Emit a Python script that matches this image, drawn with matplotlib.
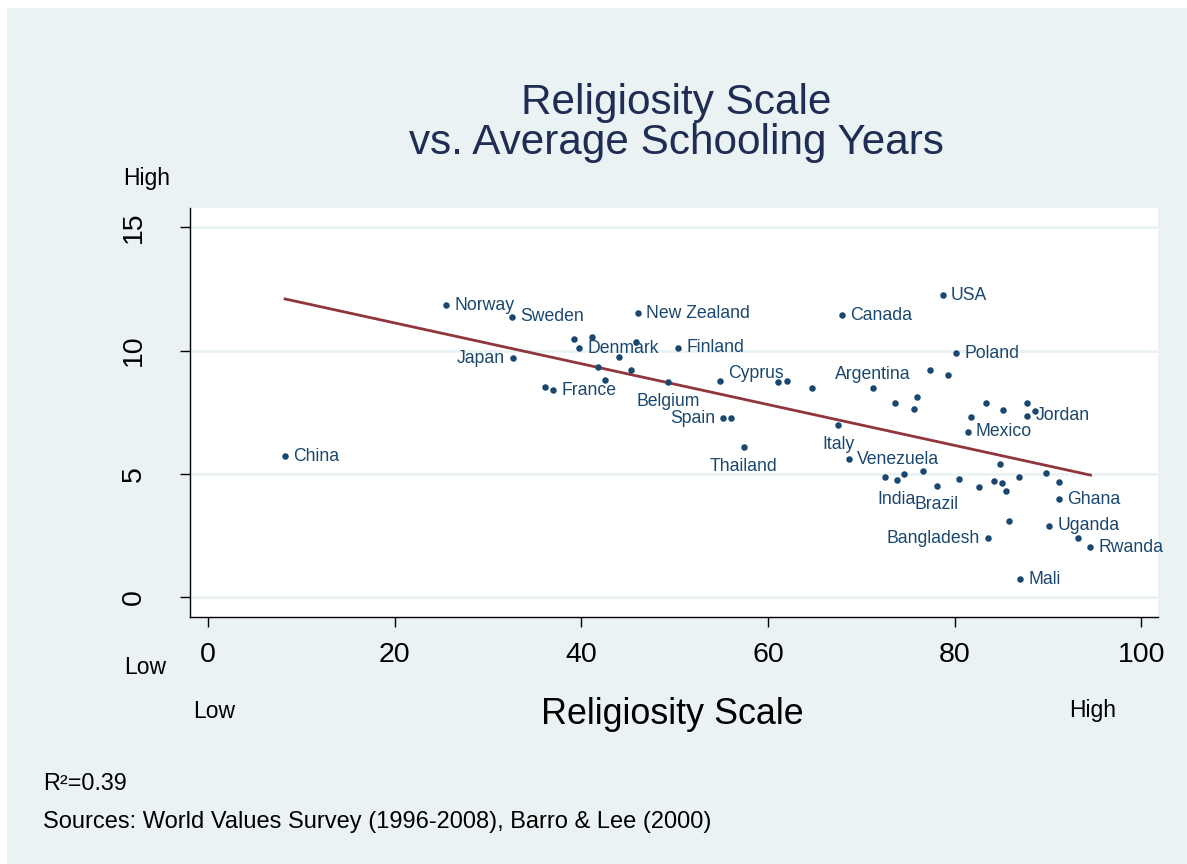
import matplotlib
matplotlib.use("Agg")
import matplotlib.pyplot as plt
import numpy as np

plt.rcParams['font.family'] = ['Liberation Sans', 'DejaVu Sans']

# Religiosity scale (x) and average schooling years (y), one entry per country
countries = [
    "China", "Norway", "Sweden", "Japan", "", "", "Denmark", "", "", "New Zealand",
    "Finland", "", "", "", "", "France", "Belgium", "Cyprus", "", "",
    "", "Spain", "", "Thailand", "USA", "Canada", "Poland", "", "", "Argentina",
    "", "", "", "", "", "", "", "", "Jordan", "Mexico",
    "Italy", "Venezuela", "", "", "", "India", "", "", "Brazil", "",
    "", "", "", "", "", "", "Ghana", "", "Uganda", "",
    "Rwanda", "Bangladesh", "Mali",
]
religiosity = [
    8.26, 25.54, 32.59, 32.65, 39.27, 41.17, 39.77, 44.02, 45.85, 46.06,
    50.40, 41.81, 42.52, 45.35, 36.16, 36.98, 49.32, 54.83, 61.08, 62.05,
    64.73, 55.23, 56.08, 57.43, 78.72, 67.99, 80.18, 77.36, 79.32, 71.24,
    73.61, 75.93, 75.61, 83.34, 85.23, 81.79, 87.80, 88.59, 87.80, 81.40,
    67.52, 68.67, 84.90, 89.77, 72.53, 73.82, 74.57, 76.58, 78.11, 80.44,
    82.58, 84.23, 85.09, 85.52, 86.94, 91.20, 91.20, 85.87, 90.16, 93.21,
    94.56, 83.58, 87.02,
]
schooling = [
    5.72, 11.85, 11.38, 9.69, 10.46, 10.56, 10.09, 9.73, 10.36, 11.51,
    10.12, 9.32, 8.81, 9.21, 8.54, 8.39, 8.71, 8.75, 8.71, 8.78,
    8.49, 7.25, 7.25, 6.08, 12.24, 11.43, 9.89, 9.21, 9.00, 8.49,
    7.89, 8.10, 7.62, 7.86, 7.59, 7.32, 7.86, 7.55, 7.35, 6.70,
    6.98, 5.59, 5.40, 5.03, 4.88, 4.74, 5.00, 5.13, 4.52, 4.78,
    4.45, 4.70, 4.61, 4.30, 4.86, 4.67, 3.97, 3.07, 2.89, 2.41,
    2.02, 2.39, 0.72,
]
# where the label sits relative to the dot
label_pos = {
    "Japan": "left", "Spain": "left", "Bangladesh": "left",
    "Belgium": "below", "Thailand": "below", "Italy": "below",
    "India": "below", "Brazil": "below",
    "Argentina": "above", "Cyprus": "upright",
}

x = np.array(religiosity)
y = np.array(schooling)

navy = "#1A476F"
maroon = "#90353B"
bg = "#EAF2F3"

fig = plt.figure(figsize=(11.87, 8.64), dpi=100)
fig.patch.set_facecolor("white")
fig.add_artist(plt.Rectangle((7 / 1187, 0), 1, 1 - 8 / 864, transform=fig.transFigure,
                             facecolor=bg, edgecolor="none", zorder=-10))

ax = fig.add_axes([190 / 1187, 1 - 617 / 864, (1158 - 190) / 1187, (617 - 208) / 864])
ax.set_facecolor("white")

ax.scatter(x, y, s=22, color=navy, zorder=3, linewidths=0)

# linear fit
slope, intercept = np.polyfit(x, y, 1)
xs = np.array([x.min(), x.max()])
ax.plot(xs, intercept + slope * xs, color=maroon, linewidth=2, zorder=2)

px = 0.72  # points per pixel
for name, xi, yi in zip(countries, x, y):
    if not name:
        continue
    pos = label_pos.get(name, "right")
    if pos == "right":
        off, ha, va = (8 * px, 0), "left", "center"
    elif pos == "left":
        off, ha, va = (-8 * px, 0), "right", "center"
    elif pos == "below":
        off, ha, va = (0, -19 * px), "center", "center"
    elif pos == "above":
        off, ha, va = (0, 13 * px), "center", "center"
    else:
        off, ha, va = (8 * px, 8 * px), "left", "center"
    ax.annotate(name, (xi, yi), xytext=off, textcoords="offset points",
                ha=ha, va=va, fontsize=12.7, color=navy, zorder=4)

ax.set_xlim(-1.93, 101.8)
ax.set_ylim(-0.81, 15.79)
ax.set_xticks([0, 20, 40, 60, 80, 100])
ax.set_yticks([0, 5, 10, 15])
ax.set_yticklabels(["0", "5", "10", "15"], rotation=90, va="center")
ax.tick_params(axis="both", direction="out", length=7, width=1, labelsize=20.5, colors="black")
ax.tick_params(axis="x", pad=11)
ax.tick_params(axis="y", pad=24)
ax.grid(axis="y", color=bg, linewidth=2)
ax.set_axisbelow(True)
for side in ["top", "right"]:
    ax.spines[side].set_visible(False)
for side in ["left", "bottom"]:
    ax.spines[side].set_linewidth(1)

fig.text(676 / 1187, 1 - 123 / 864, "Religiosity Scale\nvs. Average Schooling Years",
         ha="center", va="center", fontsize=30.4, color="#1F2D55", linespacing=1.03)
fig.text(672 / 1187, 1 - 714 / 864, "Religiosity Scale", ha="center", va="center", fontsize=25.8)
fig.text(147 / 1187, 1 - 179 / 864, "High", ha="center", va="center", fontsize=16.5)
fig.text(145 / 1187, 1 - 668 / 864, "Low", ha="center", va="center", fontsize=16.5)
fig.text(214 / 1187, 1 - 711 / 864, "Low", ha="center", va="center", fontsize=16.5)
fig.text(1093 / 1187, 1 - 711 / 864, "High", ha="center", va="center", fontsize=16.5)
fig.text(43 / 1187, 1 - 783 / 864, "R²=0.39", ha="left", va="center", fontsize=16.8)
fig.text(43 / 1187, 1 - 822 / 864, "Sources: World Values Survey (1996-2008), Barro & Lee (2000)",
         ha="left", va="center", fontsize=17)

fig.savefig("out.png", dpi=100)
